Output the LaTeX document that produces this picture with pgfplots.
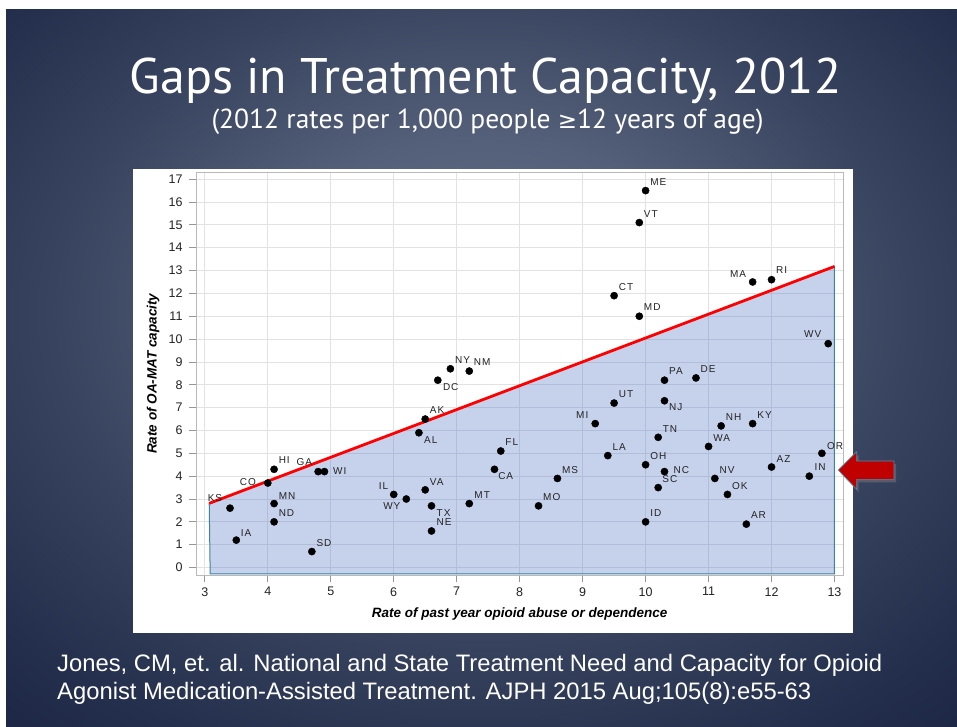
\documentclass[border=0pt]{standalone}
\usepackage{pgfplots}
\pgfplotsset{compat=1.18}
\usepackage{pgfplotstable}
\usepackage{fontspec}
\setmainfont{Liberation Sans}
\newfontfamily\titlefont{PT Sans}
\newfontfamily\symfont{DejaVu Sans}
\newfontfamily\citefont{Liberation Sans}
\newfontfamily\statefont[LetterSpace=10]{Liberation Sans}
\usetikzlibrary{shadows}

\definecolor{bg0}{RGB}{100,111,136}
\definecolor{bg1}{RGB}{84,95,121}
\definecolor{bg2}{RGB}{56,67,95}
\definecolor{bg3}{RGB}{36,47,77}
\definecolor{bg4}{RGB}{22,32,62}
\definecolor{bg5}{RGB}{12,21,48}
\definecolor{bg6}{RGB}{6,12,36}
\definecolor{gridgray}{RGB}{226,226,226}
\definecolor{framegray}{RGB}{185,185,185}
\definecolor{tickgray}{RGB}{150,150,150}
\definecolor{labelgray}{RGB}{35,35,35}
\definecolor{capblue}{RGB}{79,115,199}
\definecolor{capedge}{RGB}{60,130,165}
\definecolor{needred}{RGB}{255,0,0}
\definecolor{arrowred}{RGB}{192,0,0}
\definecolor{arrowedge}{RGB}{70,140,170}

\pgfdeclareradialshading{slidebg}{\pgfpoint{0bp}{4bp}}{%
  color(0bp)=(bg0); color(8bp)=(bg1); color(16bp)=(bg2);
  color(23bp)=(bg3); color(30bp)=(bg4); color(38bp)=(bg5); color(50bp)=(bg6)}

% states labelled to the right of their dot
\pgfplotstableread{
x    y    st dx  dy
10.0 16.5 ME 4.5 5.5
9.9  15.1 VT 4.5 5.3
9.5  11.9 CT 4.5 5.5
9.9  11.0 MD 4.5 5.5
12.0 12.6 RI 4.5 6
10.3 8.2  PA 4.5 5.5
10.8 8.3  DE 4.5 5.5
9.5  7.2  UT 4.5 5.5
10.3 7.3  NJ 4.5 -10
6.9  8.7  NY 4.5 5.5
7.2  8.6  NM 4.5 5.5
6.7  8.2  DC 5   -10.7
6.5  6.5  AK 4.5 5.3
6.4  5.9  AL 5   -10.7
4.1  4.3  HI 4.5 5.4
4.9  4.2  WI 8.5 -3
4.1  2.8  MN 4.5 4
4.1  2.0  ND 4.5 5.3
3.5  1.2  IA 4.4 3.6
4.7  0.7  SD 4.5 5
6.5  3.4  VA 4.5 4.3
6.6  2.7  TX 5   -10.7
6.6  1.6  NE 5   5
7.2  2.8  MT 5   4.6
7.7  5.1  FL 4.5 5.5
7.6  4.3  CA 3.6 -10.3
8.6  3.9  MS 4.5 5
8.3  2.7  MO 4.5 5
9.4  4.9  LA 4.5 5
10.0 4.5  OH 4.5 5.4
10.2 5.7  TN 4.5 5.3
10.3 4.2  NC 9   -2.3
10.2 3.5  SC 4   5.3
10.0 2.0  ID 4.5 5.5
11.0 5.3  WA 4.5 5.3
11.2 6.2  NH 4.5 5.3
11.7 6.3  KY 4.5 5.3
11.1 3.9  NV 4.5 5.3
11.3 3.2  OK 4.5 5.3
11.6 1.9  AR 4.5 5.3
12.0 4.4  AZ 5   4.4
12.6 4.0  IN 5   5.7
12.8 5.0  OR 5   4.3
}\rightlab

% states labelled to the left of their dot
\pgfplotstableread{
x    y    st dx    dy
11.7 12.5 MA -6.3  4.3
12.9 9.8  WV -6.7  5.7
9.2  6.3  MI -6.7  5
6.0  3.2  IL -5.3  5
6.2  3.0  WY -5.7  -10.7
4.0  3.7  CO -11.7 -2.7
4.8  4.2  GA -6    5.6
3.4  2.6  KS -7.7  6.3
}\leftlab

\begin{document}
\begin{tikzpicture}
\useasboundingbox (0pt,0pt) rectangle (957pt,-726pt);
\fill[white] (0pt,0pt) rectangle (957pt,-726pt);

\begin{scope}[x=1pt,y=-1pt]
  % slide background
  \begin{scope}
    \clip (6,9) rectangle (957,726);
    \shade[shading=slidebg] (-191,-139.5) rectangle (1154,874.5);
  \end{scope}
  % chart panel
  \fill[white] (132.7,169) rectangle (853.3,632.7);
  % titles
  \node[anchor=base, text=white, inner sep=0pt,
        font=\titlefont\fontsize{50}{50}\selectfont] at (485.5,93)
        {Gaps in Treatment Capacity, 2012};
  \node[anchor=base, text=white, inner sep=0pt,
        font=\titlefont\fontsize{27.5}{27.5}\selectfont] at (487.5,128)
        {(2012 rates per 1,000 people {\symfont\fontsize{23}{23}\selectfont ≥}12 years of age)};
  % reference
  \node[anchor=base west, text=white, inner sep=0pt,
        font=\citefont\fontsize{23.8}{24}\selectfont] at (57,671)
        {Jones, CM, et. al. National and State Treatment Need and Capacity for Opioid};
  \node[anchor=base west, text=white, inner sep=0pt,
        font=\citefont\fontsize{23.8}{24}\selectfont] at (57,699)
        {Agonist Medication-Assisted Treatment. AJPH 2015 Aug;105(8):e55-63};
\end{scope}

\begin{axis}[
  at={(196pt,-575.3pt)}, anchor=south west,
  scale only axis, width=647.3pt, height=403pt,
  xmin=2.86, xmax=13.14, ymin=-0.34, ymax=17.3,
  xtick={3,4,...,13}, ytick={0,1,...,17},
  grid=major,
  major grid style={draw=gridgray, line width=0.8pt},
  axis line style={draw=framegray, line width=1pt},
  every tick/.style={draw=tickgray, line width=0.8pt},
  tick align=outside, major tick length=7pt,
  tick pos=left,
  /pgf/number format/assume math mode=true,
  ticklabel style={font=\fontsize{12.5}{14}\selectfont, text=labelgray},
  xticklabel style={yshift=-1.5pt},
  yticklabel style={xshift=-3pt},
  xlabel={Rate of past year opioid abuse or dependence},
  ylabel={Rate of OA-MAT capacity},
  label style={font=\bfseries\itshape\fontsize{13.5}{15}\selectfont, text=black},
  xlabel style={at={(axis description cs:0.5,-0.1035)}, anchor=base},
  ylabel style={at={(axis description cs:-0.061,0.5)}, anchor=base},
  clip=false,
]
  % state rates
  \addplot[only marks, mark=*, mark size=3.6pt,
    mark options={draw=black, fill=black},
    point meta=explicit symbolic,
    visualization depends on={\thisrow{dx} \as \ldx},
    visualization depends on={\thisrow{dy} \as \ldy},
    nodes near coords,
    every node near coord/.append style={anchor=base west, inner sep=0pt,
      xshift=\ldx pt, yshift=\ldy pt,
      font=\statefont\fontsize{10}{10}\selectfont, text=labelgray}]
    table[x=x, y=y, meta=st] {\rightlab};
  \addplot[only marks, mark=*, mark size=3.6pt,
    mark options={draw=black, fill=black},
    point meta=explicit symbolic,
    visualization depends on={\thisrow{dx} \as \ldx},
    visualization depends on={\thisrow{dy} \as \ldy},
    nodes near coords,
    every node near coord/.append style={anchor=base east, inner sep=0pt,
      xshift=\ldx pt, yshift=\ldy pt,
      font=\statefont\fontsize{10}{10}\selectfont, text=labelgray}]
    table[x=x, y=y, meta=st] {\leftlab};
  % area below the need line
  \addplot[draw=capedge, line width=1pt, fill=capblue, fill opacity=0.32]
    coordinates {(3.085,-0.28) (3.07,2.81) (13.0,13.18) (13.0,-0.28)} -- cycle;
  % need line
  \addplot[draw=needred, line width=2.8pt]
    coordinates {(3.07,2.81) (13.0,13.18)};
\end{axis}

\begin{scope}[x=1pt,y=-1pt]
  % callout arrow
  \filldraw[fill=arrowred, draw=arrowedge, line width=0.6pt,
    drop shadow={shadow xshift=2pt, shadow yshift=-3pt, opacity=0.45}]
    (838.3,470) -- (856.7,451.7) -- (856.7,461) -- (894,461)
    -- (894,479.3) -- (856.7,479.3) -- (856.7,489.3) -- cycle;
\end{scope}
\end{tikzpicture}
\end{document}
